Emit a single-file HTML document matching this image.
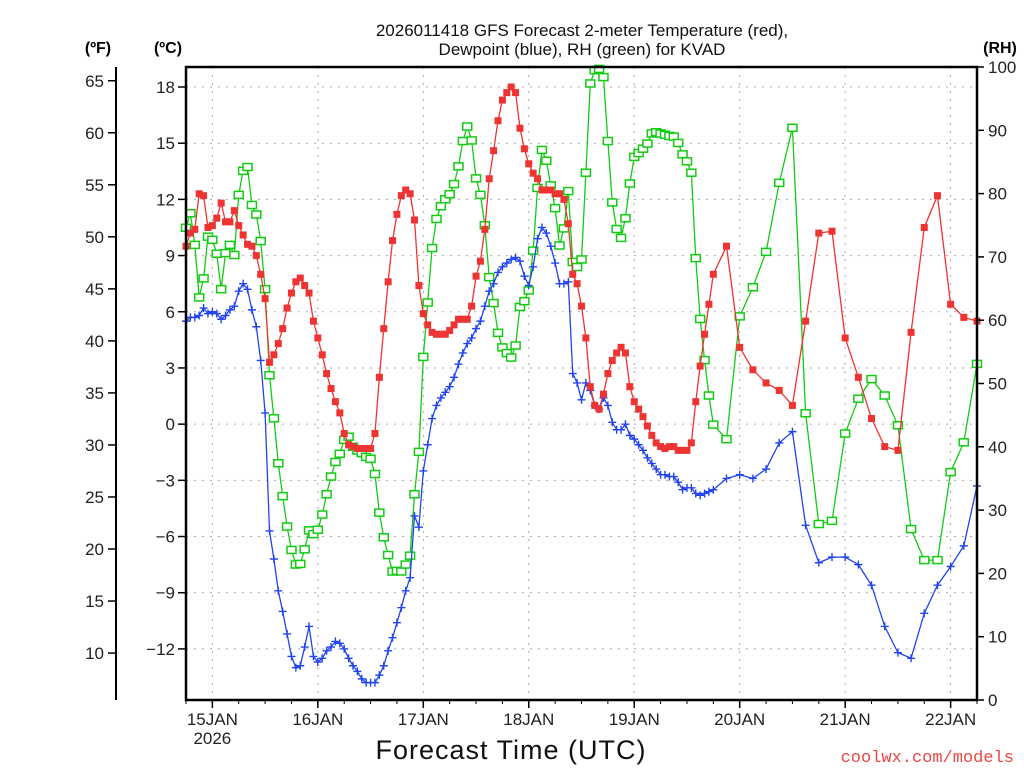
<!DOCTYPE html>
<html><head><meta charset="utf-8"><style>
body{margin:0;background:#fff;}
svg{display:block;font-family:"Liberation Sans",sans-serif;}
</style></head><body>
<svg id="chart" width="1024" height="768" viewBox="0 0 1024 768" xmlns="http://www.w3.org/2000/svg">
<rect width="1024" height="768" fill="#fff"/>
<g id="grid"></g>
<g id="series"></g>
<rect x="186" y="67" width="791" height="633" fill="none" stroke="#000" stroke-width="2.5"/>
<g id="axes" font-size="17" fill="#222"></g>
<text x="582" y="36" font-size="17" text-anchor="middle" fill="#111">2026011418 GFS Forecast 2-meter Temperature (red),</text>
<text x="582" y="55" font-size="17" text-anchor="middle" fill="#111">Dewpoint (blue), RH (green) for KVAD</text>
<text x="98" y="53" font-size="16" font-weight="bold" text-anchor="middle">(ºF)</text>
<text x="168" y="53" font-size="16" font-weight="bold" text-anchor="middle">(ºC)</text>
<text x="1000" y="53" font-size="16" font-weight="bold" text-anchor="middle">(RH)</text>
<text x="511" y="759" font-size="27" text-anchor="middle" fill="#111" letter-spacing="1">Forecast Time (UTC)</text>
<text x="1014" y="762" font-size="17" text-anchor="end" fill="#ee4444" font-family="Liberation Mono, monospace">coolwx.com/models</text>
</svg>
<script>
const hours=[0,1,2,3,4,5,6,7,8,9,10,11,12,13,14,15,16,17,18,19,20,21,22,23,24,25,26,27,28,29,30,31,32,33,34,35,36,37,38,39,40,41,42,43,44,45,46,47,48,49,50,51,52,53,54,55,56,57,58,59,60,61,62,63,64,65,66,67,68,69,70,71,72,73,74,75,76,77,78,79,80,81,82,83,84,85,86,87,88,89,90,91,92,93,94,95,96,97,98,99,100,101,102,103,104,105,106,107,108,109,110,111,112,113,114,115,116,117,118,119,120,123,126,129,132,135,138,141,144,147,150,153,156,159,162,165,168,171,174,177,180];
const tempC=[9.5,10.2,10.4,12.3,12.2,10.5,10.6,11.0,11.8,10.8,10.8,11.4,10.6,10.1,9.6,9.5,9.0,8.0,6.7,3.3,3.7,4.3,5.1,6.2,7.0,7.6,7.8,7.4,7.0,5.5,4.6,3.7,2.7,1.9,1.2,0.6,-0.5,-1.1,-1.2,-1.3,-1.3,-1.3,-1.3,-0.5,2.5,5.1,7.6,9.8,11.2,12.2,12.5,12.3,10.9,7.4,5.9,5.3,4.9,4.8,4.8,4.8,5.0,5.3,5.6,5.6,5.6,6.3,7.9,8.7,10.4,13.1,14.6,16.2,17.3,17.7,18.0,17.7,15.8,14.7,13.9,13.4,13.1,12.5,12.5,12.5,12.3,12.3,12.0,10.7,8.0,7.5,6.3,4.6,2.0,1.0,0.8,1.6,2.7,3.4,3.8,4.1,3.8,2.0,1.2,0.8,0.4,-0.1,-0.6,-1.0,-1.2,-1.3,-1.2,-1.2,-1.4,-1.4,-1.4,-1.0,1.2,3.1,4.8,6.4,8.0,9.5,4.1,2.9,2.2,1.8,1.0,5.5,10.2,10.3,4.6,2.5,0.3,-1.2,-1.4,4.9,10.5,12.2,6.4,5.7,5.5];
const dewC=[5.5,5.7,5.7,5.8,6.2,5.9,6.0,5.9,5.6,5.8,6.1,6.3,7.1,7.5,7.2,6.1,5.2,3.4,0.6,-5.7,-7.2,-8.9,-10.0,-11.2,-12.4,-13.0,-12.9,-11.9,-10.8,-12.4,-12.7,-12.5,-12.1,-11.9,-11.6,-11.7,-12.0,-12.5,-12.9,-13.2,-13.6,-13.8,-13.8,-13.8,-13.4,-12.9,-12.1,-11.4,-10.6,-9.8,-8.9,-8.2,-4.9,-5.5,-2.5,-1.1,0.3,1.0,1.4,1.7,2.0,2.5,3.2,3.8,4.3,4.6,5.1,5.5,6.3,7.1,7.5,8.1,8.4,8.6,8.8,8.9,8.7,7.9,7.4,8.4,9.9,10.5,10.2,9.5,8.6,7.5,7.5,7.6,2.7,2.2,1.3,2.2,1.8,1.0,0.8,1.4,1.0,0.1,-0.3,-0.3,0.0,-0.6,-0.8,-1.1,-1.4,-1.8,-2.1,-2.4,-2.7,-2.7,-2.8,-2.8,-3.1,-3.5,-3.4,-3.4,-3.7,-3.8,-3.7,-3.6,-3.5,-2.9,-2.7,-2.9,-2.4,-1.0,-0.4,-5.4,-7.4,-7.1,-7.1,-7.5,-8.6,-10.8,-12.2,-12.5,-10.1,-8.6,-7.6,-6.5,-3.3];
const rhPct=[74.6,76.9,71.9,63.6,66.6,73.2,72.7,70.5,64.9,70.6,71.9,70.3,79.8,83.6,84.2,78.2,76.7,72.5,64.9,51.3,44.5,37.4,32.2,27.4,23.7,21.4,21.5,23.8,26.8,26.2,26.9,29.3,32.5,35.3,37.6,38.9,41.1,41.6,40.0,39.4,39.0,38.4,38.1,35.7,29.6,25.7,22.9,20.3,20.4,20.3,21.4,22.8,32.5,39.2,54.2,62.8,71.4,76.0,78.0,79.1,79.9,81.5,84.3,88.3,90.6,88.4,82.4,79.8,75.0,66.8,62.7,58.0,55.7,54.8,54.1,56.0,62.1,63.0,64.7,71.0,80.9,86.9,85.2,81.3,77.7,71.8,74.5,80.4,69.2,68.4,69.6,83.3,97.4,99.5,99.7,98.4,88.3,78.6,74.4,73.0,76.1,81.6,85.8,86.4,87.1,87.9,89.5,89.7,89.5,89.3,89.1,89.0,88.0,86.2,85.1,83.3,69.8,60.2,53.7,48.1,43.5,41.2,60.6,65.2,70.8,81.7,90.4,45.3,27.8,28.3,42.1,47.6,50.7,48.1,43.4,27.0,22.1,22.1,36.0,40.7,53.1];
const celsiusTicks=[18,15,12,9,6,3,0,-3,-6,-9,-12];
const fahrenheitTicks=[65,60,55,50,45,40,35,30,25,20,15,10];
const rhTicks=[100,90,80,70,60,50,40,30,20,10,0];
const dayLabels=["15JAN","16JAN","17JAN","18JAN","19JAN","20JAN","21JAN","22JAN"];
const dayHours=[6,30,54,78,102,126,150,174];

const NS="http://www.w3.org/2000/svg";
const X0=186,X1=977,Y0=67,Y1=700;
function xH(h){return X0+h*(X1-X0)/180;}
function yC(c){return 87+(18-c)*18.73;}
function yF(f){return yC((f-32)/1.8);}
function yRH(r){return Y1-r*(Y1-Y0)/100;}
function mk(tag,attrs,parent){const e=document.createElementNS(NS,tag);for(const k in attrs)e.setAttribute(k,attrs[k]);parent.appendChild(e);return e;}
const grid=document.getElementById('grid'),series=document.getElementById('series'),axes=document.getElementById('axes');

celsiusTicks.forEach(c=>{
  const y=yC(c);
  const g=mk('line',{x1:X0,x2:X1,y1:y,y2:y,stroke:'#aaa','stroke-width':1,'stroke-dasharray':'2,6'},grid);
  
  
  const t=mk('line',{x1:178,x2:X0,y1:y,y2:y,stroke:'#000','stroke-width':1.5},axes);
  
  
  const l=mk('text',{x:175,y:y+6,'text-anchor':'end'},axes);
  l.textContent=(c<0?'\u2212'+(-c):String(c));
  
  
});
dayHours.forEach((h,i)=>{
  const x=xH(h);
  const g=mk('line',{x1:x,x2:x,y1:Y0,y2:Y1,stroke:'#aaa','stroke-width':1,'stroke-dasharray':'2,6'},grid);
  
  
  const t=mk('line',{x1:x,x2:x,y1:Y1,y2:Y1+8,stroke:'#000','stroke-width':1.5},axes);
  
  
  const l=mk('text',{x:x,y:725,'text-anchor':'middle'},axes);
  l.textContent=dayLabels[i];
  
  
});
const yr=mk('text',{x:xH(dayHours[0]),y:744,'text-anchor':'middle'},axes);
yr.textContent='2026';


for(let h=0;h<=180;h+=6){
  const t=mk('line',{x1:xH(h),x2:xH(h),y1:Y1,y2:Y1+4,stroke:'#000','stroke-width':1},axes);
  
  
}
const fl=mk('line',{x1:116,x2:116,y1:Y0,y2:Y1,stroke:'#000','stroke-width':2},axes);


fahrenheitTicks.forEach(f=>{
  const y=yF(f);
  const t=mk('line',{x1:108,x2:116,y1:y,y2:y,stroke:'#000','stroke-width':1.5},axes);
  
  
  const l=mk('text',{x:104,y:y+6,'text-anchor':'end'},axes);
  l.textContent=String(f);
  
  
});
rhTicks.forEach(r=>{
  const y=yRH(r);
  const t=mk('line',{x1:X1,x2:X1+7,y1:y,y2:y,stroke:'#000','stroke-width':1.5},axes);
  
  
  const l=mk('text',{x:988,y:y+6,'text-anchor':'start'},axes);
  l.textContent=String(r);
  
  
});

function clipY(y){return Math.max(Y0,Math.min(Y1,y));}
function drawSeries(vals,yf,color,name){
  const pts=vals.map((v,i)=>[xH(hours[i]),clipY(yf(v))]);
  const pl=mk('polyline',{points:pts.map(p=>p.join(',')).join(' '),fill:'none',stroke:color,'stroke-width':1.3},series);
  
  
  return pts;
}
const rhPts=drawSeries(rhPct,yRH,'#11cc11','rh');
rhPts.forEach(p=>{
  const r=mk('rect',{x:p[0]-4.5,y:p[1]-3.5,width:9,height:7,fill:'#fff',stroke:'#11cc11','stroke-width':1.5},series);
  
  
});
const dPts=drawSeries(dewC,yC,'#2244ee','dewpoint');
dPts.forEach(p=>{
  const c=mk('path',{d:`M${p[0]-4},${p[1]}h8M${p[0]},${p[1]-4}v8`,stroke:'#2244ee','stroke-width':1.4},series);
  
  
});
const tPts=drawSeries(tempC,yC,'#ee3333','temperature');
tPts.forEach(p=>{
  const r=mk('rect',{x:p[0]-3.5,y:p[1]-3.5,width:7,height:7,fill:'#ee3333'},series);
  
  
});
</script>
</body></html>
